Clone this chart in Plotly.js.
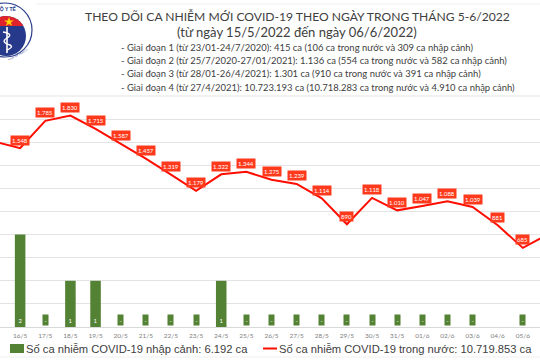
<!DOCTYPE html>
<html>
<head>
<meta charset="utf-8">
<script src="https://cdn.plot.ly/plotly-3.0.1.min.js"></script>
<style>html,body{margin:0;padding:0;background:#fff;}#chart{width:540px;height:360px;}</style>
</head>
<body>
<div id="chart"></div>
<script>
const dates = ['15/5','16/5','17/5','18/5','19/5','20/5','21/5','22/5','23/5','24/5','25/5','26/5','27/5','28/5','29/5','30/5','31/5','01/6','02/6','03/6','04/6','05/6','06/6'];
const domestic = [1604,1548,1785,1830,1715,1587,1457,1319,1179,1322,1344,1275,1239,1114,890,1118,1010,1047,1088,1039,881,685,802];
const imported = [0,2,0,1,1,0,0,0,0,1,0,0,0,0,0,0,0,0,0,0,null,0,0];
const titleLine1 = 'THEO DÕI CA NHIỄM MỚI COVID-19 THEO NGÀY TRONG THÁNG 5-6/2022';
const titleLine2 = '(từ ngày 15/5/2022 đến ngày 06/6/2022)';
const notes = [
  '- Giai đoạn 1 (từ 23/01-24/7/2020): 415 ca (106 ca trong nước và 309 ca nhập cảnh)',
  '- Giai đoạn 2 (từ 25/7/2020-27/01/2021): 1.136 ca (554 ca trong nước và 582 ca nhập cảnh)',
  '- Giai đoạn 3 (từ 28/01-26/4/2021): 1.301 ca (910 ca trong nước và 391 ca nhập cảnh)',
  '- Giai đoạn 4 (từ 27/4/2021): 10.723.193 ca (10.718.283 ca trong nước và 4.910 ca nhập cảnh)'
];
const legendImported = 'Số ca nhiễm COVID-19 nhập cảnh: 6.192 ca';
const legendDomestic = 'Số ca nhiễm COVID-19 trong nước: 10.719.853 ca';

const W = 540, H = 360, ML = 0, MR = 0, MT = 96, MB = 33;
const PW = W - ML - MR, PH = H - MT - MB;
const px = x => (x - ML) / PW;
const py = y => (H - MB - y) / PH;

const fmt = v => v.toString().replace(/\B(?=(\d{3})+(?!\d))/g, '.');
const RED = '#ff0d00', LABELRED = '#ff3a1c', GREEN = '#548235', TXT = '#404040';

const traces = [
  {type:'bar', x:dates, y:imported, yaxis:'y2', marker:{color:GREEN}, width:0.42, hoverinfo:'skip'},
  {type:'scatter', mode:'lines', x:dates, y:domestic, line:{color:RED, width:2}, hoverinfo:'skip'}
];

const ann = [];
dates.forEach((d,i)=>{
  ann.push({xref:'x', yref:'y', x:d, y:domestic[i], yshift:8, text:fmt(domestic[i]), showarrow:false,
    bgcolor:LABELRED, borderpad:1, font:{family:'Lato, sans-serif', size:6, color:'#fff'}, xanchor:'center', yanchor:'middle'});
  if (imported[i] !== null) {
    ann.push({xref:'x', yref:'y2', x:d, y:0, yshift:7, text: imported[i] ? String(imported[i]) : '-', showarrow:false,
      bgcolor:GREEN, borderpad:1.5, font:{family:'Lato, sans-serif', size:6, color:'#fff'}, xanchor:'center', yanchor:'middle'});
  }
});
ann.push({xref:'paper', yref:'paper', x:px(297), y:py(17), text:titleLine1, showarrow:false, xanchor:'center', yanchor:'middle',
  font:{family:'Lato, sans-serif', size:12.1, color:TXT}});
ann.push({xref:'paper', yref:'paper', x:px(297), y:py(32), text:titleLine2, showarrow:false, xanchor:'center', yanchor:'middle',
  font:{family:'Lato, sans-serif', size:13, color:TXT}});
const noteY = [48, 61, 74, 87];
notes.forEach((t,i)=>ann.push({xref:'paper', yref:'paper', x:px(119), y:py(noteY[i]), text:t, showarrow:false, xanchor:'left', yanchor:'middle',
  font:{family:'Lato, sans-serif', size:9.45, color:TXT}}));
ann.push({xref:'paper', yref:'paper', x:px(24), y:py(348.5), text:legendImported, showarrow:false, xanchor:'left', yanchor:'middle',
  font:{family:'Liberation Sans, Arial, sans-serif', size:11.2, color:TXT}});
ann.push({xref:'paper', yref:'paper', x:px(277), y:py(348.5), text:legendDomestic, showarrow:false, xanchor:'left', yanchor:'middle',
  font:{family:'Liberation Sans, Arial, sans-serif', size:11.2, color:TXT}});

// Ministry of Health logo (approximation), as inline SVG image
const logoSvg = `<svg xmlns="http://www.w3.org/2000/svg" width="60" height="58" viewBox="0 0 60 58">
<defs><clipPath id="d"><circle cx="30" cy="34" r="20"/></clipPath></defs>
<circle cx="29" cy="28" r="27" fill="#fff" stroke="#2b3f8c" stroke-width="1.2"/>
<circle cx="30" cy="34" r="20" fill="#27398a"/>
<rect x="8" y="10" width="44" height="14" fill="#e0232a" clip-path="url(#d)"/>
<polygon points="33,15 34.2,18.5 37.8,18.5 34.9,20.6 36,24 33,22 30,24 31.1,20.6 28.2,18.5 31.8,18.5" fill="#ffd200"/>
<path d="M31 25 L31 51" stroke="#fff" stroke-width="1.6"/>
<path d="M27 30 Q38 32 31 36 Q24 40 34 43 Q38 45 31 48" stroke="#fff" stroke-width="1.4" fill="none"/>
<text x="30" y="9" font-family="Liberation Sans" font-size="5" font-weight="bold" fill="#27398a" text-anchor="middle">BỘ Y TẾ</text>
<text x="40" y="55" font-family="Liberation Sans" font-size="2.6" fill="#27398a" text-anchor="middle" transform="rotate(-30 40 55)">MINISTRY OF HEALTH</text>
</svg>`;
const logoSrc = 'data:image/svg+xml;charset=utf-8,' + encodeURIComponent(logoSvg);

const shapes = [
  {type:'line', xref:'paper', yref:'paper', x0:px(0), x1:px(540), y0:py(96), y1:py(96), line:{color:'#e3e3e3', width:1}},
  {type:'line', xref:'paper', yref:'paper', x0:px(36), x1:px(540), y0:py(4), y1:py(4), line:{color:'#f0f0f0', width:1}},
  {type:'line', xref:'paper', yref:'paper', x0:px(0), x1:px(540), y0:py(357), y1:py(357), line:{color:'#f0f0f0', width:1}},
  {type:'rect', xref:'paper', yref:'paper', x0:px(10), x1:px(24), y0:py(344), y1:py(353), fillcolor:GREEN, line:{width:0}},
  {type:'line', xref:'paper', yref:'paper', x0:px(263), x1:px(277), y0:py(348.5), y1:py(348.5), line:{color:RED, width:2}}
];

const layout = {
  width:W, height:H, margin:{l:ML, r:MR, t:MT, b:MB, pad:0},
  paper_bgcolor:'#fff', plot_bgcolor:'#fff', showlegend:false,
  font:{family:'Lato, sans-serif', color:TXT},
  xaxis:{type:'category', range:[0.199, 21.682], showgrid:false, showline:true, linecolor:'#d9d9d9', linewidth:1,
    ticks:'', tickfont:{size:6.5, color:'#808080', family:'Lato, sans-serif'}, ticklabelstandoff:2, fixedrange:true},
  yaxis:{range:[0,2000], dtick:200, showgrid:true, gridcolor:'#e3e3e3', gridwidth:1, showticklabels:false, zeroline:false, fixedrange:true},
  yaxis2:{range:[0,5], overlaying:'y', side:'right', showgrid:false, showticklabels:false, zeroline:false, fixedrange:true},
  bargap:0.58,
  images:[{source:logoSrc, xref:'paper', yref:'paper', x:px(-24), y:py(2), sizex:60/PW, sizey:58/PH,
    xanchor:'left', yanchor:'top', sizing:'stretch', layer:'above'}],
  annotations:ann, shapes:shapes
};
Plotly.newPlot('chart', traces, layout, {displayModeBar:false, staticPlot:true});
</script>
</body>
</html>
